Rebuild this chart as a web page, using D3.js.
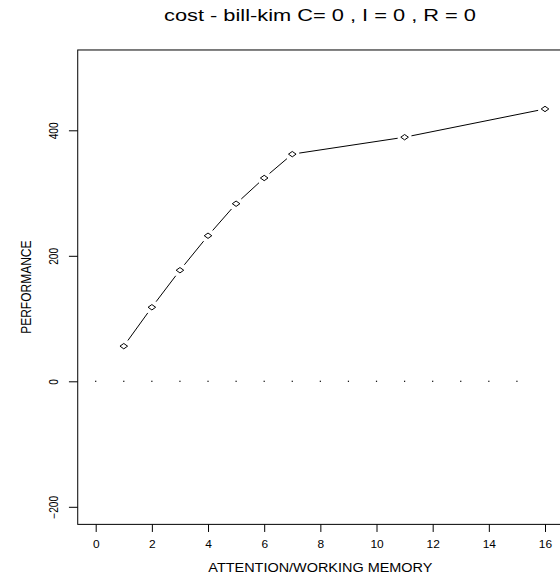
<!DOCTYPE html>
<html>
<head>
<meta charset="utf-8">
<script src="https://cdn.jsdelivr.net/npm/d3@7"></script>
<style>
  body { margin: 0; background: #fff; }
  text { font-family: "Liberation Sans", Arial, sans-serif; fill: #000; }
</style>
</head>
<body>
<svg id="chart"></svg>
<script>
let outerWidth = 560;
let outerHeight = 576;

// data
let memory = [1, 2, 3, 4, 5, 6, 7, 11, 16];
let performance = [56, 118, 177, 232, 283, 324, 362, 389, 434];
let zeroDots = [0, 1, 2, 3, 4, 5, 6, 7, 8, 9, 10, 11, 12, 13, 14, 15];
let xTicks = [0, 2, 4, 6, 8, 10, 12, 14, 16];
let yTicks = [-200, 0, 200, 400];
let title = 'cost - bill-kim C= 0 , I = 0 , R = 0';
let xTitle = 'ATTENTION/WORKING MEMORY';
let yTitle = 'PERFORMANCE';

let stretch = 1.17; // the original picture is a bit wider than tall

let svg = d3.select('#chart')
  .attr('width', outerWidth)
  .attr('height', outerHeight);

// xlim 0..16, ylim -200..500, each padded 4% like S/R plots
let xScale = d3.scaleLinear().domain([0, 16]).range([95.7, 545]);
let yScale = d3.scaleLinear().domain([0, 400]).range([381.3, 130.3]);
let xPad = 16 * 0.04, yPad = 700 * 0.04;
let box = {
  left: xScale(0 - xPad),
  right: xScale(16 + xPad),
  top: yScale(500 + yPad),
  bottom: yScale(-200 - yPad)
};

svg.append('rect') // plot frame
  .attr('x', box.left)
  .attr('y', box.top)
  .attr('width', box.right - box.left)
  .attr('height', box.bottom - box.top)
  .attr('fill', 'none')
  .attr('stroke', '#000')
  .attr('stroke-width', 1);

// x axis under the frame, no domain line
let xAxis = svg.append('g')
  .attr('transform', 'translate(0,' + box.bottom + ')')
  .call(d3.axisBottom(xScale).tickValues(xTicks).tickSize(7.6).tickPadding(8.7))
xAxis.select('.domain').remove();
xAxis.selectAll('text')
  .style('font-size', '10.2px')
  .style('font-family', '"Liberation Sans", Arial, sans-serif')
  .attr('transform', `scale(${stretch},1)`);

// y axis left of the frame, labels turned
let yAxis = svg.append('g')
  .attr('transform', 'translate(' + box.left + ',0)')
  .call(d3.axisLeft(yScale).tickValues(yTicks).tickSize(8.8).tickFormat(d3.format('d')))
yAxis.select('.domain').remove();
yAxis.selectAll('text')
  .style('font-size', '10.2px')
  .style('font-family', '"Liberation Sans", Arial, sans-serif')
  .attr('x', null).attr('dy', null)
  .attr('text-anchor', 'middle')
  .attr('transform', `translate(-20,0) scale(${stretch},1) rotate(-90)`);

// dotted zero line
svg.selectAll('.zdot')
  .data(zeroDots)
  .enter()
  .append('rect')
  .attr('class', 'zdot')
  .attr('x', d => xScale(d) - 0.6)
  .attr('y', yScale(0) - 0.6)
  .attr('width', 1.2)
  .attr('height', 1.2)
  .attr('fill', '#000');

// line pieces that stop short of each point (type = "b")
let pts = memory.map((m, i) => [xScale(m), yScale(performance[i])]);
let gap = 7;
for (let i = 0; i < pts.length - 1; i++) {
  let [x0, y0] = pts[i], [x1, y1] = pts[i + 1];
  let len = Math.hypot(x1 - x0, y1 - y0);
  let ux = (x1 - x0) / len, uy = (y1 - y0) / len;
  svg.append('line')
    .attr('x1', x0 + ux * gap).attr('y1', y0 + uy * gap)
    .attr('x2', x1 - ux * gap).attr('y2', y1 - uy * gap)
    .attr('stroke', '#000')
    .attr('stroke-width', 1);
}

// diamond markers
svg.selectAll('.pt')
  .data(pts)
  .enter()
  .append('path')
  .attr('class', 'pt')
  .attr('d', d => `M${d[0] - 3.8},${d[1]} L${d[0]},${d[1] - 2.7} L${d[0] + 3.8},${d[1]} L${d[0]},${d[1] + 2.7} Z`)
  .attr('fill', 'none')
  .attr('stroke', '#000')
  .attr('stroke-width', 1);

svg.append('text') // title
  .attr('x', 320)
  .attr('y', 21)
  .attr('text-anchor', 'middle')
  .attr('textLength', 312)
  .attr('lengthAdjust', 'spacingAndGlyphs')
  .style('font-size', '16px')
  .text(title);

svg.append('text') // x title
  .attr('x', xScale(8))
  .attr('y', 572)
  .attr('text-anchor', 'middle')
  .attr('textLength', 224)
  .attr('lengthAdjust', 'spacingAndGlyphs')
  .style('font-size', '12px')
  .text(xTitle);

let yMid = (box.top + box.bottom) / 2;
svg.append('text') // y title
  .attr('x', 0)
  .attr('y', 0)
  .attr('text-anchor', 'middle')
  .attr('transform', `translate(31,${yMid}) scale(${stretch},1) rotate(-90)`)
  .style('font-size', '12px')
  .text(yTitle);
</script>
</body>
</html>
